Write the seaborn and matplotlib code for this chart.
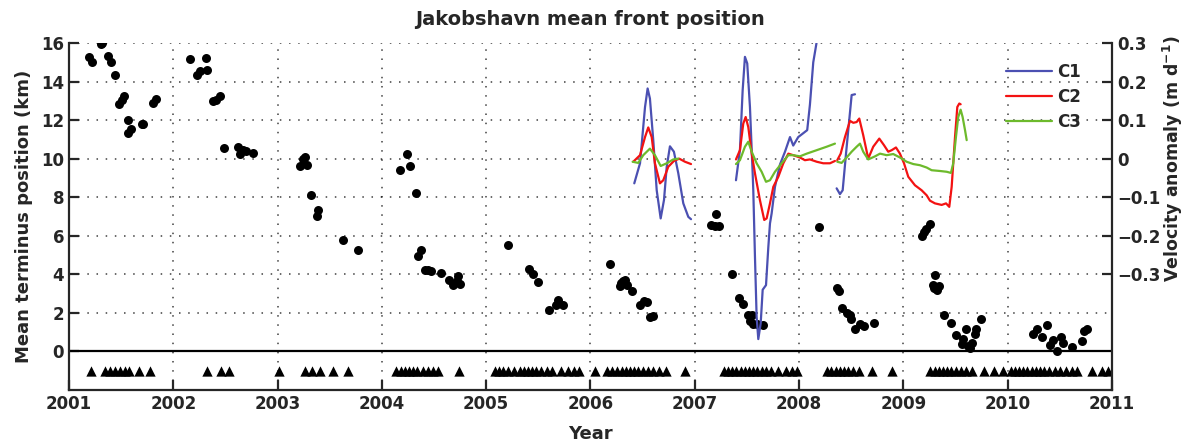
import numpy as np
import pandas as pd
import matplotlib
matplotlib.use("Agg")
import matplotlib.pyplot as plt
import seaborn as sns

# front positions (decimal year, km)
front_year = [2001.195, 2001.22, 2001.307, 2001.32, 2001.37, 2001.40, 2001.44, 2001.48, 2001.505, 2001.53,
              2001.566, 2001.57, 2001.59, 2001.70, 2001.71, 2001.81, 2001.83,
              2002.163, 2002.23, 2002.256, 2002.31, 2002.32, 2002.38, 2002.41, 2002.45, 2002.49, 2002.62,
              2002.64, 2002.67, 2002.70, 2002.76,
              2003.215, 2003.24, 2003.26, 2003.28, 2003.32, 2003.375, 2003.39, 2003.63, 2003.77,
              2004.17, 2004.24, 2004.27, 2004.33, 2004.35, 2004.375, 2004.41, 2004.445, 2004.47, 2004.57,
              2004.64, 2004.68, 2004.72, 2004.73, 2004.75,
              2005.21, 2005.41, 2005.45, 2005.50, 2005.60, 2005.67, 2005.69, 2005.74,
              2006.19, 2006.28, 2006.29, 2006.31, 2006.33, 2006.35, 2006.395, 2006.475, 2006.51, 2006.54,
              2006.57, 2006.60,
              2007.155, 2007.19, 2007.20, 2007.23, 2007.36, 2007.42, 2007.46, 2007.51, 2007.545, 2007.53,
              2007.56, 2007.60, 2007.65,
              2008.19, 2008.36, 2008.385, 2008.41, 2008.455, 2008.49, 2008.50, 2008.54, 2008.58, 2008.62,
              2008.715,
              2009.175, 2009.20, 2009.22, 2009.255, 2009.28, 2009.29, 2009.305, 2009.32, 2009.345, 2009.39,
              2009.46, 2009.50, 2009.56, 2009.575, 2009.60, 2009.62, 2009.64, 2009.655, 2009.69, 2009.70,
              2009.745,
              2010.245, 2010.28, 2010.33, 2010.38, 2010.41, 2010.43, 2010.47, 2010.51, 2010.53, 2010.62,
              2010.71, 2010.73, 2010.76]
front_km = [15.27, 15.03, 15.94, 15.99, 15.35, 15.03, 14.35, 12.83, 13.06, 13.26,
            12.0, 11.33, 11.55, 11.78, 11.81, 12.88, 13.09,
            15.16, 14.35, 14.56, 15.2, 14.6, 13.0, 13.06, 13.25, 10.53, 10.62,
            10.26, 10.43, 10.38, 10.31,
            9.6, 9.98, 10.07, 9.65, 8.13, 7.05, 7.32, 5.8, 5.28,
            9.43, 10.26, 9.64, 8.22, 4.97, 5.25, 4.25, 4.21, 4.16, 4.08,
            3.69, 3.47, 3.64, 3.9, 3.52,
            5.51, 4.3, 4.04, 3.58, 2.14, 2.43, 2.69, 2.42,
            4.51, 3.42, 3.56, 3.64, 3.73, 3.47, 3.16, 2.4, 2.61, 2.55,
            1.78, 1.83,
            6.58, 6.53, 7.11, 6.49, 4.0, 2.75, 2.47, 1.87, 1.87, 1.6,
            1.43, 1.4, 1.35,
            6.46, 3.28, 3.14, 2.26, 1.97, 1.87, 1.66, 1.17, 1.4, 1.31,
            1.47,
            5.97, 6.18, 6.36, 6.63, 3.47, 3.3, 3.99, 3.18, 3.38, 1.87,
            1.49, 0.85, 0.36, 0.66, 1.14, 0.27, 0.19, 0.45, 0.88, 1.14,
            1.69,
            0.93, 1.17, 0.76, 1.35, 0.31, 0.59, 0.02, 0.76, 0.45, 0.22,
            0.53, 1.05, 1.14]

# image acquisition dates (shown as triangles at -1 km)
image_year = [2001.21, 2001.345, 2001.39, 2001.44, 2001.49, 2001.54, 2001.58, 2001.67, 2001.78,
              2002.32, 2002.46, 2002.53,
              2003.01, 2003.26, 2003.33, 2003.41, 2003.53, 2003.68,
              2004.14, 2004.18, 2004.22, 2004.26, 2004.30, 2004.34, 2004.39, 2004.44, 2004.49, 2004.54, 2004.74,
              2005.08, 2005.12, 2005.16, 2005.21, 2005.27, 2005.32, 2005.36, 2005.40, 2005.44, 2005.48,
              2005.53, 2005.58, 2005.63, 2005.72, 2005.78, 2005.84, 2005.89,
              2006.04, 2006.16, 2006.21, 2006.25, 2006.30, 2006.34, 2006.38, 2006.42, 2006.46, 2006.50,
              2006.55, 2006.60, 2006.66, 2006.72, 2006.91,
              2007.28, 2007.32, 2007.36, 2007.40, 2007.44, 2007.48, 2007.52, 2007.56, 2007.60, 2007.64,
              2007.68, 2007.73, 2007.80, 2007.87, 2007.93, 2007.98,
              2008.27, 2008.31, 2008.35, 2008.39, 2008.43, 2008.47, 2008.52, 2008.57, 2008.70, 2008.89,
              2009.26, 2009.30, 2009.34, 2009.38, 2009.42, 2009.46, 2009.50, 2009.55, 2009.60, 2009.66,
              2009.77, 2009.865, 2009.955,
              2010.03, 2010.07, 2010.11, 2010.15, 2010.19, 2010.23, 2010.27, 2010.31, 2010.35, 2010.40,
              2010.45, 2010.50, 2010.56, 2010.62, 2010.66, 2010.805, 2010.90, 2010.965]
image_km = -1.0

# velocity anomaly (m/d), separate segments per series
c1_year = [[2006.420, 2006.475, 2006.523, 2006.548, 2006.570, 2006.602, 2006.635, 2006.673, 2006.705,
            2006.731, 2006.762, 2006.800, 2006.842, 2006.890, 2006.938, 2006.964],
           [2007.395, 2007.433, 2007.459, 2007.481, 2007.503, 2007.529, 2007.555, 2007.561, 2007.577,
            2007.593, 2007.609, 2007.632, 2007.651, 2007.683, 2007.705, 2007.721, 2007.737, 2007.769,
            2007.817, 2007.865, 2007.913, 2007.944, 2007.992, 2008.040, 2008.078, 2008.104, 2008.136,
            2008.169],
           [2008.360, 2008.392, 2008.418, 2008.450, 2008.481, 2008.504, 2008.536]]
c1_vel = [[-0.064, -0.012, 0.134, 0.182, 0.156, 0.048, -0.082, -0.155, -0.107,
           -0.021, 0.032, 0.018, -0.038, -0.116, -0.151, -0.157],
          [-0.056, 0.022, 0.177, 0.264, 0.247, 0.134, -0.038, -0.082, -0.254,
           -0.410, -0.468, -0.427, -0.340, -0.328, -0.230, -0.168, -0.142, -0.073,
           -0.015, 0.018, 0.056, 0.034, 0.056, 0.066, 0.074, 0.140, 0.250,
           0.303],
          [-0.077, -0.092, -0.082, 0.013, 0.100, 0.165, 0.167]]

c2_year = [[2006.410, 2006.475, 2006.523, 2006.554, 2006.587, 2006.618, 2006.666, 2006.698, 2006.746,
            2006.800, 2006.851, 2006.906, 2006.964],
           [2007.395, 2007.433, 2007.465, 2007.488, 2007.513, 2007.546, 2007.577, 2007.625, 2007.666,
            2007.689, 2007.721, 2007.753, 2007.801, 2007.849, 2007.897, 2007.944, 2008.008, 2008.056,
            2008.104, 2008.169, 2008.232, 2008.296, 2008.344],
           [2008.366, 2008.399, 2008.440, 2008.488, 2008.520, 2008.552, 2008.577, 2008.615, 2008.663,
            2008.711, 2008.769, 2008.814, 2008.855, 2008.888, 2008.929, 2008.967, 2009.006, 2009.047,
            2009.111, 2009.175, 2009.223, 2009.255, 2009.303, 2009.367, 2009.409, 2009.440, 2009.463,
            2009.495, 2009.517, 2009.536, 2009.549]]
c2_vel = [[-0.008, 0.009, 0.056, 0.081, 0.056, -0.012, -0.064, -0.056, -0.021,
           -0.006, 0.0, -0.008, -0.014],
          [-0.002, 0.022, 0.091, 0.108, 0.082, 0.013, -0.038, -0.108, -0.159,
           -0.155, -0.116, -0.073, -0.047, -0.012, 0.013, 0.009, 0.003, -0.004,
           -0.002, -0.008, -0.012, -0.012, -0.006],
          [-0.004, 0.013, 0.056, 0.098, 0.093, 0.095, 0.104, 0.061, 0.0,
           0.031, 0.052, 0.035, 0.018, 0.022, 0.029, 0.013, -0.012, -0.047,
           -0.069, -0.082, -0.095, -0.109, -0.116, -0.120, -0.116, -0.125, -0.073,
           0.056, 0.134, 0.143, 0.141]]

c3_year = [[2006.404, 2006.458, 2006.506, 2006.570, 2006.618, 2006.673, 2006.731, 2006.794, 2006.842],
           [2007.395, 2007.433, 2007.481, 2007.513, 2007.546, 2007.593, 2007.641, 2007.683, 2007.721,
            2007.769, 2007.833, 2007.897, 2007.944, 2008.008, 2008.073, 2008.169, 2008.265, 2008.344],
           [2008.366, 2008.408, 2008.456, 2008.504, 2008.552, 2008.584, 2008.615, 2008.663, 2008.728,
            2008.776, 2008.840, 2008.903, 2008.967, 2009.031, 2009.095, 2009.159, 2009.223, 2009.271,
            2009.351, 2009.415, 2009.456, 2009.478, 2009.504, 2009.526, 2009.549, 2009.568, 2009.591,
            2009.607]]
c3_vel = [[-0.008, -0.011, 0.009, 0.026, 0.009, -0.019, -0.012, -0.002, 0.0],
          [-0.014, -0.004, 0.031, 0.044, 0.018, -0.012, -0.034, -0.060, -0.056,
           -0.034, -0.012, 0.009, 0.009, 0.006, 0.013, 0.022, 0.031, 0.039],
          [-0.008, -0.011, 0.003, 0.018, 0.031, 0.039, 0.018, -0.002, 0.006,
           0.013, 0.009, 0.012, 0.003, -0.008, -0.014, -0.017, -0.023, -0.030,
           -0.032, -0.034, -0.037, -0.012, 0.056, 0.108, 0.127, 0.108, 0.074,
           0.048]]

series = {"C1": (c1_year, c1_vel, "#4b50b2"),
          "C2": (c2_year, c2_vel, "#f31212"),
          "C3": (c3_year, c3_vel, "#6dba2c")}

years = list(range(2001, 2012))
left_ticks = [0, 2, 4, 6, 8, 10, 12, 14, 16]
right_ticks = [-0.3, -0.2, -0.1, 0, 0.1, 0.2, 0.3]
right_labels = ["\u22120.3", "\u22120.2", "\u22120.1", "0", "0.1", "0.2", "0.3"]

sns.set_style("ticks")
plt.rcParams["font.family"] = ["DejaVu Sans"]
plt.rcParams["font.weight"] = "bold"
plt.rcParams["font.size"] = 12

fig = plt.figure(figsize=(11.87, 4.46), dpi=100)
ax = fig.add_axes([0.0581, 0.1256, 0.8787, 0.778])

dots = pd.DataFrame({"year": front_year, "km": front_km})
sns.scatterplot(data=dots, x="year", y="km", ax=ax, color="black", s=42,
                edgecolor="black", linewidth=0, zorder=3)
tri = pd.DataFrame({"year": image_year, "km": [image_km] * len(image_year)})
sns.scatterplot(data=tri, x="year", y="km", ax=ax, color="black", marker="^",
                s=55, edgecolor="black", linewidth=0, zorder=3)

ax.axhline(0, color="black", lw=1.6, zorder=2)
ax.set_xlim(2001, 2011)
ax.set_ylim(-2, 16)
ax.set_xticks(years)
ax.set_xticklabels([str(y) for y in years], fontweight="bold")
ax.set_yticks(left_ticks)
ax.set_yticklabels([str(t) for t in left_ticks], fontweight="bold")
ax.grid(True, linestyle=(0, (1, 5)), color="black", lw=1.1, alpha=0.75)
ax.set_xlabel("Year", fontweight="bold", fontsize=13, labelpad=9)
ax.set_ylabel("Mean terminus position (km)", fontweight="bold", fontsize=13, labelpad=6)
ax.set_title("Jakobshavn mean front position", fontweight="bold", fontsize=14, pad=13)

ax2 = ax.twinx()
for name, (yrs, vals, col) in series.items():
    for i, (xs, vs) in enumerate(zip(yrs, vals)):
        seg = pd.DataFrame({"year": xs, "vel": vs})
        sns.lineplot(data=seg, x="year", y="vel", ax=ax2, color=col, lw=1.6,
                     sort=False, label=name if i == 0 else None, legend=False)
ax2.set_ylim(-0.6, 0.3)
ax2.set_yticks(right_ticks)
ax2.set_yticklabels(right_labels, fontweight="bold")
ax2.set_ylabel("Velocity anomaly (m d$^{\\mathbf{-1}}$)", fontweight="bold", fontsize=12.5)
ax2.yaxis.set_label_coords(1.047, 0.665)
ax2.set_xlim(2001, 2011)

for a in (ax, ax2):
    a.spines["top"].set_visible(False)
    for s in ("left", "right", "bottom"):
        a.spines[s].set_linewidth(1.6)
    a.tick_params(direction="in", length=7, width=1.6, labelsize=12)
ax.spines["right"].set_visible(False)
ax2.spines["left"].set_visible(False)
ax2.spines["bottom"].set_visible(False)

handles = [plt.Line2D([], [], color=c, lw=1.6) for (_, _, c) in series.values()]
ax2.legend(handles, list(series.keys()), loc="upper right", bbox_to_anchor=(0.985, 0.985),
           frameon=False, handlelength=2.8, labelspacing=0.42, handletextpad=0.3,
           prop={"weight": "bold", "size": 12})

fig.savefig("out.png", dpi=100)
